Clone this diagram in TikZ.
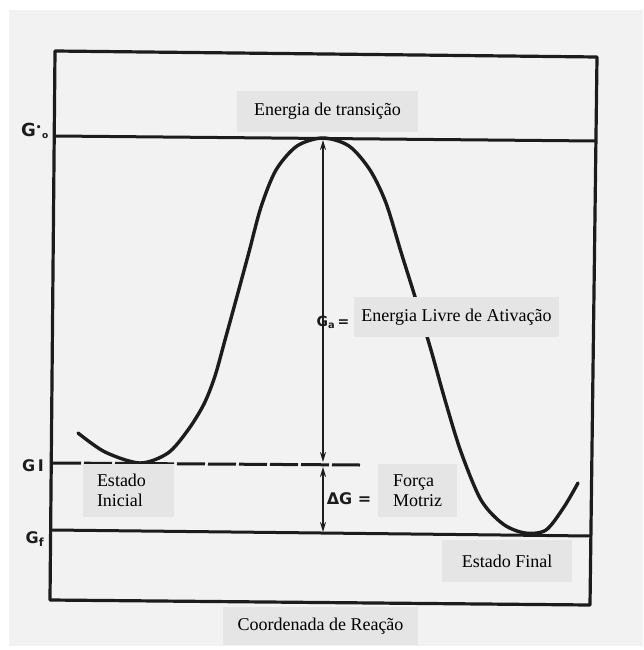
\documentclass[tikz,border=0pt]{standalone}
\usepackage{fontspec}
\setmainfont{Liberation Serif}
\newfontfamily\serifft{Liberation Serif}
\newfontfamily\symfont{DejaVu Sans}
\usetikzlibrary{arrows.meta}
\definecolor{bg}{HTML}{F2F2F2}
\definecolor{boxg}{HTML}{E5E5E5}
\definecolor{ink}{HTML}{1C1C1C}
\tikzset{
  frameline/.style={draw=ink, line width=3.2pt, line join=round},
  levelline/.style={draw=ink, line width=3pt},
  curveline/.style={draw=ink, line width=3.4pt, line cap=round},
  dblarrow/.style={draw=ink, line width=2.4pt, {Stealth[length=10pt,width=6pt]}-{Stealth[length=10pt,width=6pt]}},
  textbox/.style={fill=boxg, inner sep=0pt, text=black, font=\serifft\fontsize{18}{20}\selectfont},
  symlabel/.style={inner sep=0pt, text=ink, font=\symfont\bfseries\fontsize{16}{18}\selectfont}
}
\begin{document}
\begin{tikzpicture}[x=1pt,y=-1pt]
\useasboundingbox (0,0) rectangle (643,650);
\fill[white] (0,0) rectangle (643,650);
\fill[bg] (9,10) rectangle (643,646);

% frame corners
\coordinate (TL) at (55,51);
\coordinate (TR) at (597,57);
\coordinate (BR) at (590,605);
\coordinate (BL) at (50,600);
\draw[frameline] (TL) -- (TR) -- (BR) -- (BL) -- cycle;

% level lines
\coordinate (G0L) at (55,136);
\coordinate (G0R) at (596,141);
\coordinate (GIL) at (53,463);
\coordinate (GIR) at (360,465);
\coordinate (GfL) at (52,530);
\coordinate (GfR) at (591,536);
\draw[levelline] (G0L) -- (G0R);
\draw[levelline, dash pattern=on 28pt off 3pt] (GIL) -- (GIR);
\draw[levelline] (GfL) -- (GfR);

% reaction curve
\draw[curveline] plot[smooth, tension=0.5] coordinates {
 (78,433) (105,452) (140,463) (168,453) (188,430) (204,404) (215,376) (225,340)
 (236,300) (249,252) (261,207) (276,170) (297,146) (323,138) (349,146)
 (370,170) (386,203) (401,252) (416,300) (431,350) (445,400) (461,452)
 (481,500) (503,524) (525,533) (546,530) (564,507) (578,483)};

% arrows
\coordinate (peak) at (323,140);
\coordinate (giA) at (323,462);
\coordinate (giB) at (323,467);
\coordinate (gfA) at (323,532);
\draw[dblarrow] (peak) -- (giA);
\draw[dblarrow] (giB) -- (gfA);

% symbol labels
\node[symlabel, font=\symfont\bfseries\fontsize{18}{18}\selectfont] (g0) at (35,131) {G\textsuperscript{\small\textbullet}\textsubscript{\small o}};
\node[symlabel] (gi) at (33,466) {G\,I};
\node[symlabel] (gf) at (35,539) {G\textsubscript{f}};
\node[symlabel, font=\symfont\bfseries\fontsize{14}{16}\selectfont] (ga) at (333,322) {G\textsubscript{a}\,=};
\node[symlabel] (dg) at (349,499) {ΔG =};

% text boxes
\node[textbox, minimum width=181pt, minimum height=41pt] (trans) at (327.5,111.5) {Energia de transição};
\node[textbox, minimum width=205pt, minimum height=40pt] (ativ) at (456.5,317) {Energia Livre de Ativação};
\node[textbox, inner xsep=14pt, text width=63pt, minimum height=53pt, align=left] (inicial) at (128.5,490.5) {Estado\\Inicial};
\node[textbox, inner xsep=15pt, text width=49pt, minimum height=53pt, align=left] (forca) at (417.5,490.5) {Força\\Motriz};
\node[textbox, minimum width=130pt, minimum height=42pt] (final) at (507,561) {Estado Final};
\node[textbox, minimum width=195pt, minimum height=38pt] (coord) at (320.5,626) {Coordenada de Reação};
\end{tikzpicture}
\end{document}
